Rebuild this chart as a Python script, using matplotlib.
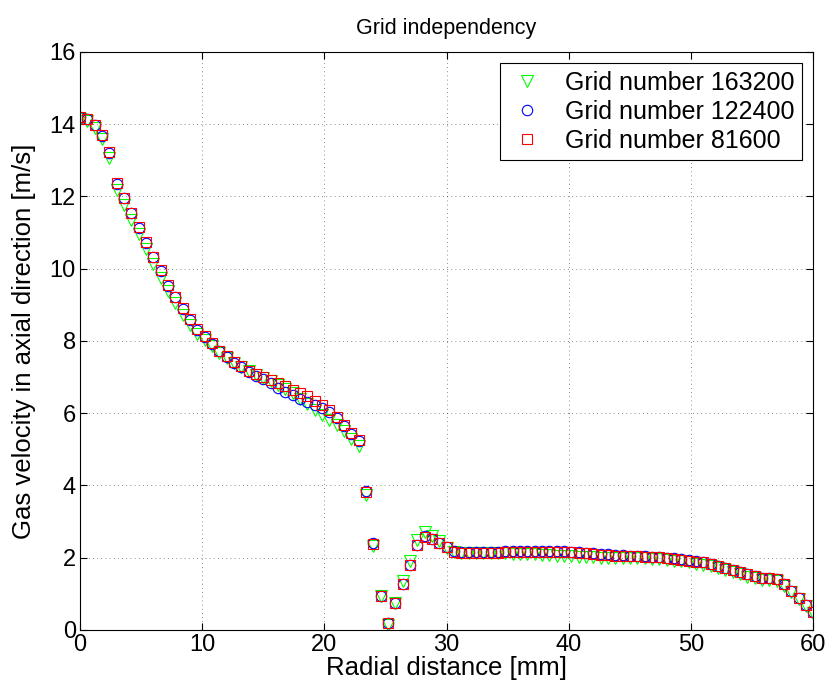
import numpy as np
import matplotlib
matplotlib.use('Agg')
import matplotlib.pyplot as plt

plt.rcParams['font.family'] = ['Liberation Sans', 'DejaVu Sans']

# radial positions, 0.6 mm spacing
r = np.arange(101) * 0.6

v_163200 = [14.15, 14.10, 13.90, 13.58, 13.05, 12.17, 11.77, 11.35, 10.95, 10.55,
            10.13, 9.75, 9.37, 9.05, 8.73, 8.45, 8.20, 8.02, 7.85, 7.66,
            7.52, 7.40, 7.28, 7.17, 7.07, 6.97, 6.88, 6.78, 6.67, 6.55,
            6.40, 6.25, 6.10, 5.95, 5.82, 5.67, 5.50, 5.30, 5.10, 3.75,
            2.33, 0.93, 0.15, 0.75, 1.35, 1.90, 2.48, 2.72, 2.60, 2.45,
            2.28, 2.15, 2.12, 2.12, 2.12, 2.12, 2.12, 2.12, 2.12, 2.11,
            2.11, 2.10, 2.09, 2.08, 2.07, 2.06, 2.05, 2.04, 2.03, 2.02,
            2.01, 2.00, 2.00, 2.00, 2.00, 2.00, 1.99, 1.98, 1.97, 1.96,
            1.94, 1.92, 1.90, 1.87, 1.84, 1.81, 1.77, 1.72, 1.66, 1.60,
            1.54, 1.48, 1.43, 1.39, 1.37, 1.36, 1.22, 1.04, 0.85, 0.66,
            0.47]

v_122400 = [14.20, 14.15, 13.97, 13.68, 13.20, 12.35, 11.95, 11.53, 11.13, 10.72,
            10.31, 9.94, 9.53, 9.21, 8.88, 8.58, 8.31, 8.10, 7.92, 7.72,
            7.55, 7.40, 7.29, 7.15, 7.03, 6.94, 6.83, 6.70, 6.60, 6.50,
            6.40, 6.31, 6.23, 6.15, 6.04, 5.86, 5.64, 5.42, 5.23, 3.85,
            2.40, 0.95, 0.18, 0.74, 1.28, 1.80, 2.36, 2.60, 2.52, 2.42,
            2.30, 2.20, 2.17, 2.16, 2.16, 2.16, 2.17, 2.17, 2.18, 2.18,
            2.18, 2.19, 2.19, 2.19, 2.19, 2.19, 2.18, 2.17, 2.16, 2.14,
            2.12, 2.10, 2.09, 2.08, 2.07, 2.06, 2.05, 2.04, 2.03, 2.02,
            2.00, 1.98, 1.96, 1.93, 1.90, 1.87, 1.83, 1.78, 1.72, 1.66,
            1.60, 1.54, 1.49, 1.45, 1.43, 1.42, 1.27, 1.08, 0.88, 0.69,
            0.50]

v_81600 = [14.20, 14.15, 13.98, 13.69, 13.22, 12.37, 11.97, 11.55, 11.15, 10.74,
           10.33, 9.95, 9.55, 9.23, 8.90, 8.60, 8.33, 8.14, 7.94, 7.73,
           7.57, 7.43, 7.30, 7.18, 7.08, 7.00, 6.92, 6.83, 6.74, 6.64,
           6.55, 6.48, 6.35, 6.23, 6.09, 5.89, 5.68, 5.46, 5.26, 3.83,
           2.38, 0.95, 0.18, 0.74, 1.27, 1.80, 2.35, 2.58, 2.51, 2.42,
           2.31, 2.17, 2.14, 2.13, 2.13, 2.13, 2.14, 2.14, 2.15, 2.15,
           2.15, 2.16, 2.16, 2.16, 2.16, 2.16, 2.16, 2.15, 2.14, 2.12,
           2.10, 2.08, 2.07, 2.06, 2.05, 2.05, 2.04, 2.03, 2.02, 2.01,
           1.99, 1.97, 1.95, 1.92, 1.89, 1.87, 1.83, 1.78, 1.72, 1.66,
           1.60, 1.54, 1.49, 1.45, 1.43, 1.42, 1.27, 1.08, 0.88, 0.69,
           0.50]

fig = plt.figure(figsize=(8.29, 6.92), dpi=100)
ax = fig.add_axes([0.0965, 0.0896, 0.8845, 0.8354])

ax.plot(r, v_163200, 'v', color=(0, 1, 0), mfc='none', ms=8, mew=0.8, label='Grid number 163200')
ax.plot(r, v_122400, 'o', color=(0, 0, 1), mfc='none', ms=7.5, mew=0.8, label='Grid number 122400')
ax.plot(r, v_81600, 's', color=(1, 0, 0), mfc='none', ms=7, mew=0.8, label='Grid number 81600')

ax.set_xlim(0, 60)
ax.set_ylim(0, 16)
ax.set_xticks(np.arange(0, 61, 10))
ax.set_yticks(np.arange(0, 17, 2))
ax.tick_params(direction='in', top=True, right=True, labelsize=17, length=5, width=0.8, pad=3)
ax.grid(True, linestyle=(0, (1, 4)), color='black', linewidth=0.6, alpha=0.6)
for s in ax.spines.values():
    s.set_linewidth(0.8)

ax.set_xlabel('Radial distance [mm]', fontsize=18.5, labelpad=0)
ax.set_ylabel('Gas velocity in axial direction [m/s]', fontsize=18.5, labelpad=10)
ax.set_title('Grid independency', fontsize=15.5, pad=13)

leg = ax.legend(loc='upper right', numpoints=1, fontsize=18, fancybox=False,
                edgecolor='black', framealpha=1, borderaxespad=0.45,
                handlelength=1.6, handletextpad=0.7, labelspacing=0.2,
                borderpad=0.3, markerscale=1.0)
leg.get_frame().set_linewidth(0.8)

fig.savefig('out.png', dpi=100)
